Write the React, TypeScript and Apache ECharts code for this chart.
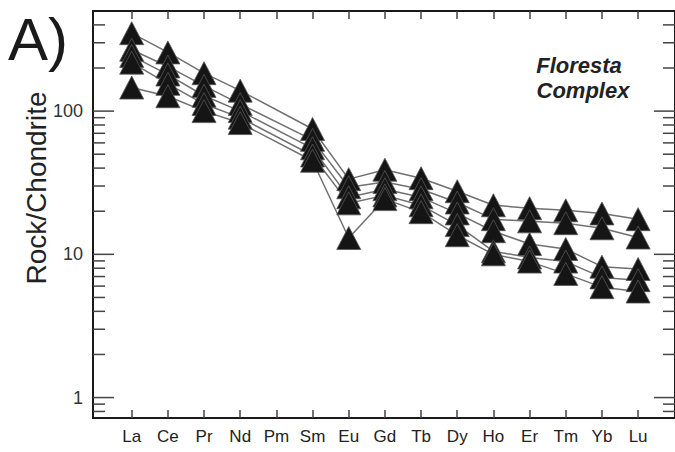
import React, { useEffect, useRef } from "react";
import * as echarts from "echarts";

const categories = ["La", "Ce", "Pr", "Nd", "Pm", "Sm", "Eu", "Gd", "Tb", "Dy", "Ho", "Er", "Tm", "Yb", "Lu"];
const sample1 = [350, 257, 184, 139, null, 75, 33.5, 39, 34, 27.6, 22, 21, 20.3, 19.3, 17.6];
const sample2 = [268, 205, 150, 112, null, 63, 29.4, 32, 28.5, 23, 17.6, 17, 16.5, 15.2, 13.1];
const sample3 = [243, 180, 128, 100, null, 55, 25, 28.5, 25, 19.3, 14.5, 11.8, 10.9, 8.2, 7.9];
const sample4 = [218, 155, 112, 90, null, 49, 22.7, 25.8, 22, 16, 10.5, 9.5, 8.9, 6.9, 6.6];
const sample5 = [146, 127, 100, 82.5, null, 45, 13, 24.3, 19.7, 13.6, 10, 8.9, 7.3, 5.9, 5.5];
const samples = [sample1, sample2, sample3, sample4, sample5];

const yMajorTicks = [1, 10, 100];
const yMinorTicks = [0.8, 0.9, 2, 3, 4, 5, 6, 7, 8, 9, 20, 30, 40, 50, 60, 70, 80, 90, 200, 300, 400];
const xTickValues = categories.map((_, i) => i);

export default function App() {
  const ref = useRef<HTMLDivElement>(null);
  useEffect(() => {
    if (!ref.current) return;
    const chart = echarts.init(ref.current, null, { renderer: "svg" });
    const toPairs = (arr: (number | null)[]) =>
      arr.map((v, i) => [i, v]).filter((p) => p[1] !== null);

    const lineSeries = samples.map((s) => ({
      type: "line",
      data: toPairs(s),
      symbol: "none",
      connectNulls: true,
      lineStyle: { color: "#707070", width: 1.5 },
      z: 2,
      silent: true,
    }));

    const scatterData: any[] = [];
    samples.forEach((s) => toPairs(s).forEach((p) => scatterData.push(p)));

    const tickData = [
      ...yMajorTicks.map((v) => [0, v, 1]),
      ...yMinorTicks.map((v) => [0, v, 0]),
    ];

    const fontFamily = "'Liberation Sans', Arial, sans-serif";

    chart.setOption({
      animation: false,
      backgroundColor: "#ffffff",
      grid: {
        left: 93,
        top: 11,
        right: -2,
        bottom: 34,
        show: true,
        borderColor: "#1a1a1a",
        borderWidth: 2,
        backgroundColor: "transparent",
        containLabel: false,
      },
      xAxis: [
        {
          type: "value",
          min: -1.07,
          max: 15.02,
          position: "bottom",
          axisLine: { show: false },
          splitLine: { show: false },
          axisTick: {
            show: true,
            inside: true,
            length: 8,
            customValues: xTickValues,
            lineStyle: { color: "#444", width: 1.5 },
          },
          axisLabel: {
            show: true,
            customValues: xTickValues,
            formatter: (v: number) => categories[Math.round(v)] ?? "",
            margin: 10,
            fontSize: 17,
            color: "#222",
            fontFamily,
          },
        },
        {
          type: "value",
          min: -1.07,
          max: 15.02,
          position: "top",
          axisLine: { show: false },
          splitLine: { show: false },
          axisTick: {
            show: true,
            inside: true,
            length: 8,
            customValues: xTickValues,
            lineStyle: { color: "#444", width: 1.5 },
          },
          axisLabel: { show: false },
        },
      ],
      yAxis: {
        type: "log",
        logBase: 10,
        min: 0.72,
        max: 500,
        axisLine: { show: false },
        axisTick: { show: false },
        axisLabel: { show: false },
        splitLine: { show: false },
      },
      graphic: [
        {
          type: "text",
          left: 8,
          top: 9,
          style: { text: "A)", fontSize: 60, fill: "#1a1a1a", fontFamily, fontWeight: "normal" },
        },
        {
          type: "text",
          x: 36,
          y: 188,
          rotation: Math.PI / 2,
          style: {
            text: "Rock/Chondrite",
            fontSize: 28,
            fill: "#222",
            fontFamily,
            align: "center",
            verticalAlign: "middle",
            textAlign: "center",
            textVerticalAlign: "middle",
          },
        },
        {
          type: "text",
          x: 579,
          y: 65,
          style: {
            text: "Floresta",
            fontSize: 22,
            fontWeight: "bold",
            fontStyle: "italic",
            fill: "#222",
            fontFamily,
            align: "center",
            verticalAlign: "middle",
            textAlign: "center",
            textVerticalAlign: "middle",
          },
        },
        {
          type: "text",
          x: 583,
          y: 90,
          style: {
            text: "Complex",
            fontSize: 22,
            fontWeight: "bold",
            fontStyle: "italic",
            fill: "#222",
            fontFamily,
            align: "center",
            verticalAlign: "middle",
            textAlign: "center",
            textVerticalAlign: "middle",
          },
        },
      ],
      series: [
        ...lineSeries,
        {
          type: "scatter",
          data: scatterData,
          symbol: "triangle",
          symbolSize: [24, 23],
          itemStyle: { color: "#151515", borderColor: "#555", borderWidth: 0.8, opacity: 1 },
          z: 3,
          silent: true,
        },
        {
          type: "custom",
          data: tickData,
          encode: { x: 0, y: 1 },
          clip: false,
          silent: true,
          z: 4,
          renderItem: (params: any, api: any) => {
            const v = api.value(1);
            const major = api.value(2) === 1;
            const pt = api.coord([0, v]);
            const cs = params.coordSys;
            const len = major ? 21 : 12;
            const stroke = { stroke: "#444", lineWidth: 1.5 };
            const children: any[] = [
              { type: "line", shape: { x1: cs.x, y1: pt[1], x2: cs.x + len, y2: pt[1] }, style: stroke },
              {
                type: "line",
                shape: { x1: cs.x + cs.width, y1: pt[1], x2: cs.x + cs.width - len, y2: pt[1] },
                style: stroke,
              },
            ];
            if (major) {
              children.push({
                type: "text",
                style: {
                  text: String(v),
                  x: cs.x - 10,
                  y: pt[1],
                  align: "right",
                  verticalAlign: "middle",
                  textAlign: "right",
                  textVerticalAlign: "middle",
                  fontSize: 18,
                  fill: "#333",
                  fontFamily,
                },
              });
            }
            return { type: "group", children };
          },
        },
      ],
    });
    return () => chart.dispose();
  }, []);
  return (
    <div
      ref={ref}
      style={{ position: "fixed", left: 0, top: 0, width: 675, height: 452 }}
    />
  );
}
